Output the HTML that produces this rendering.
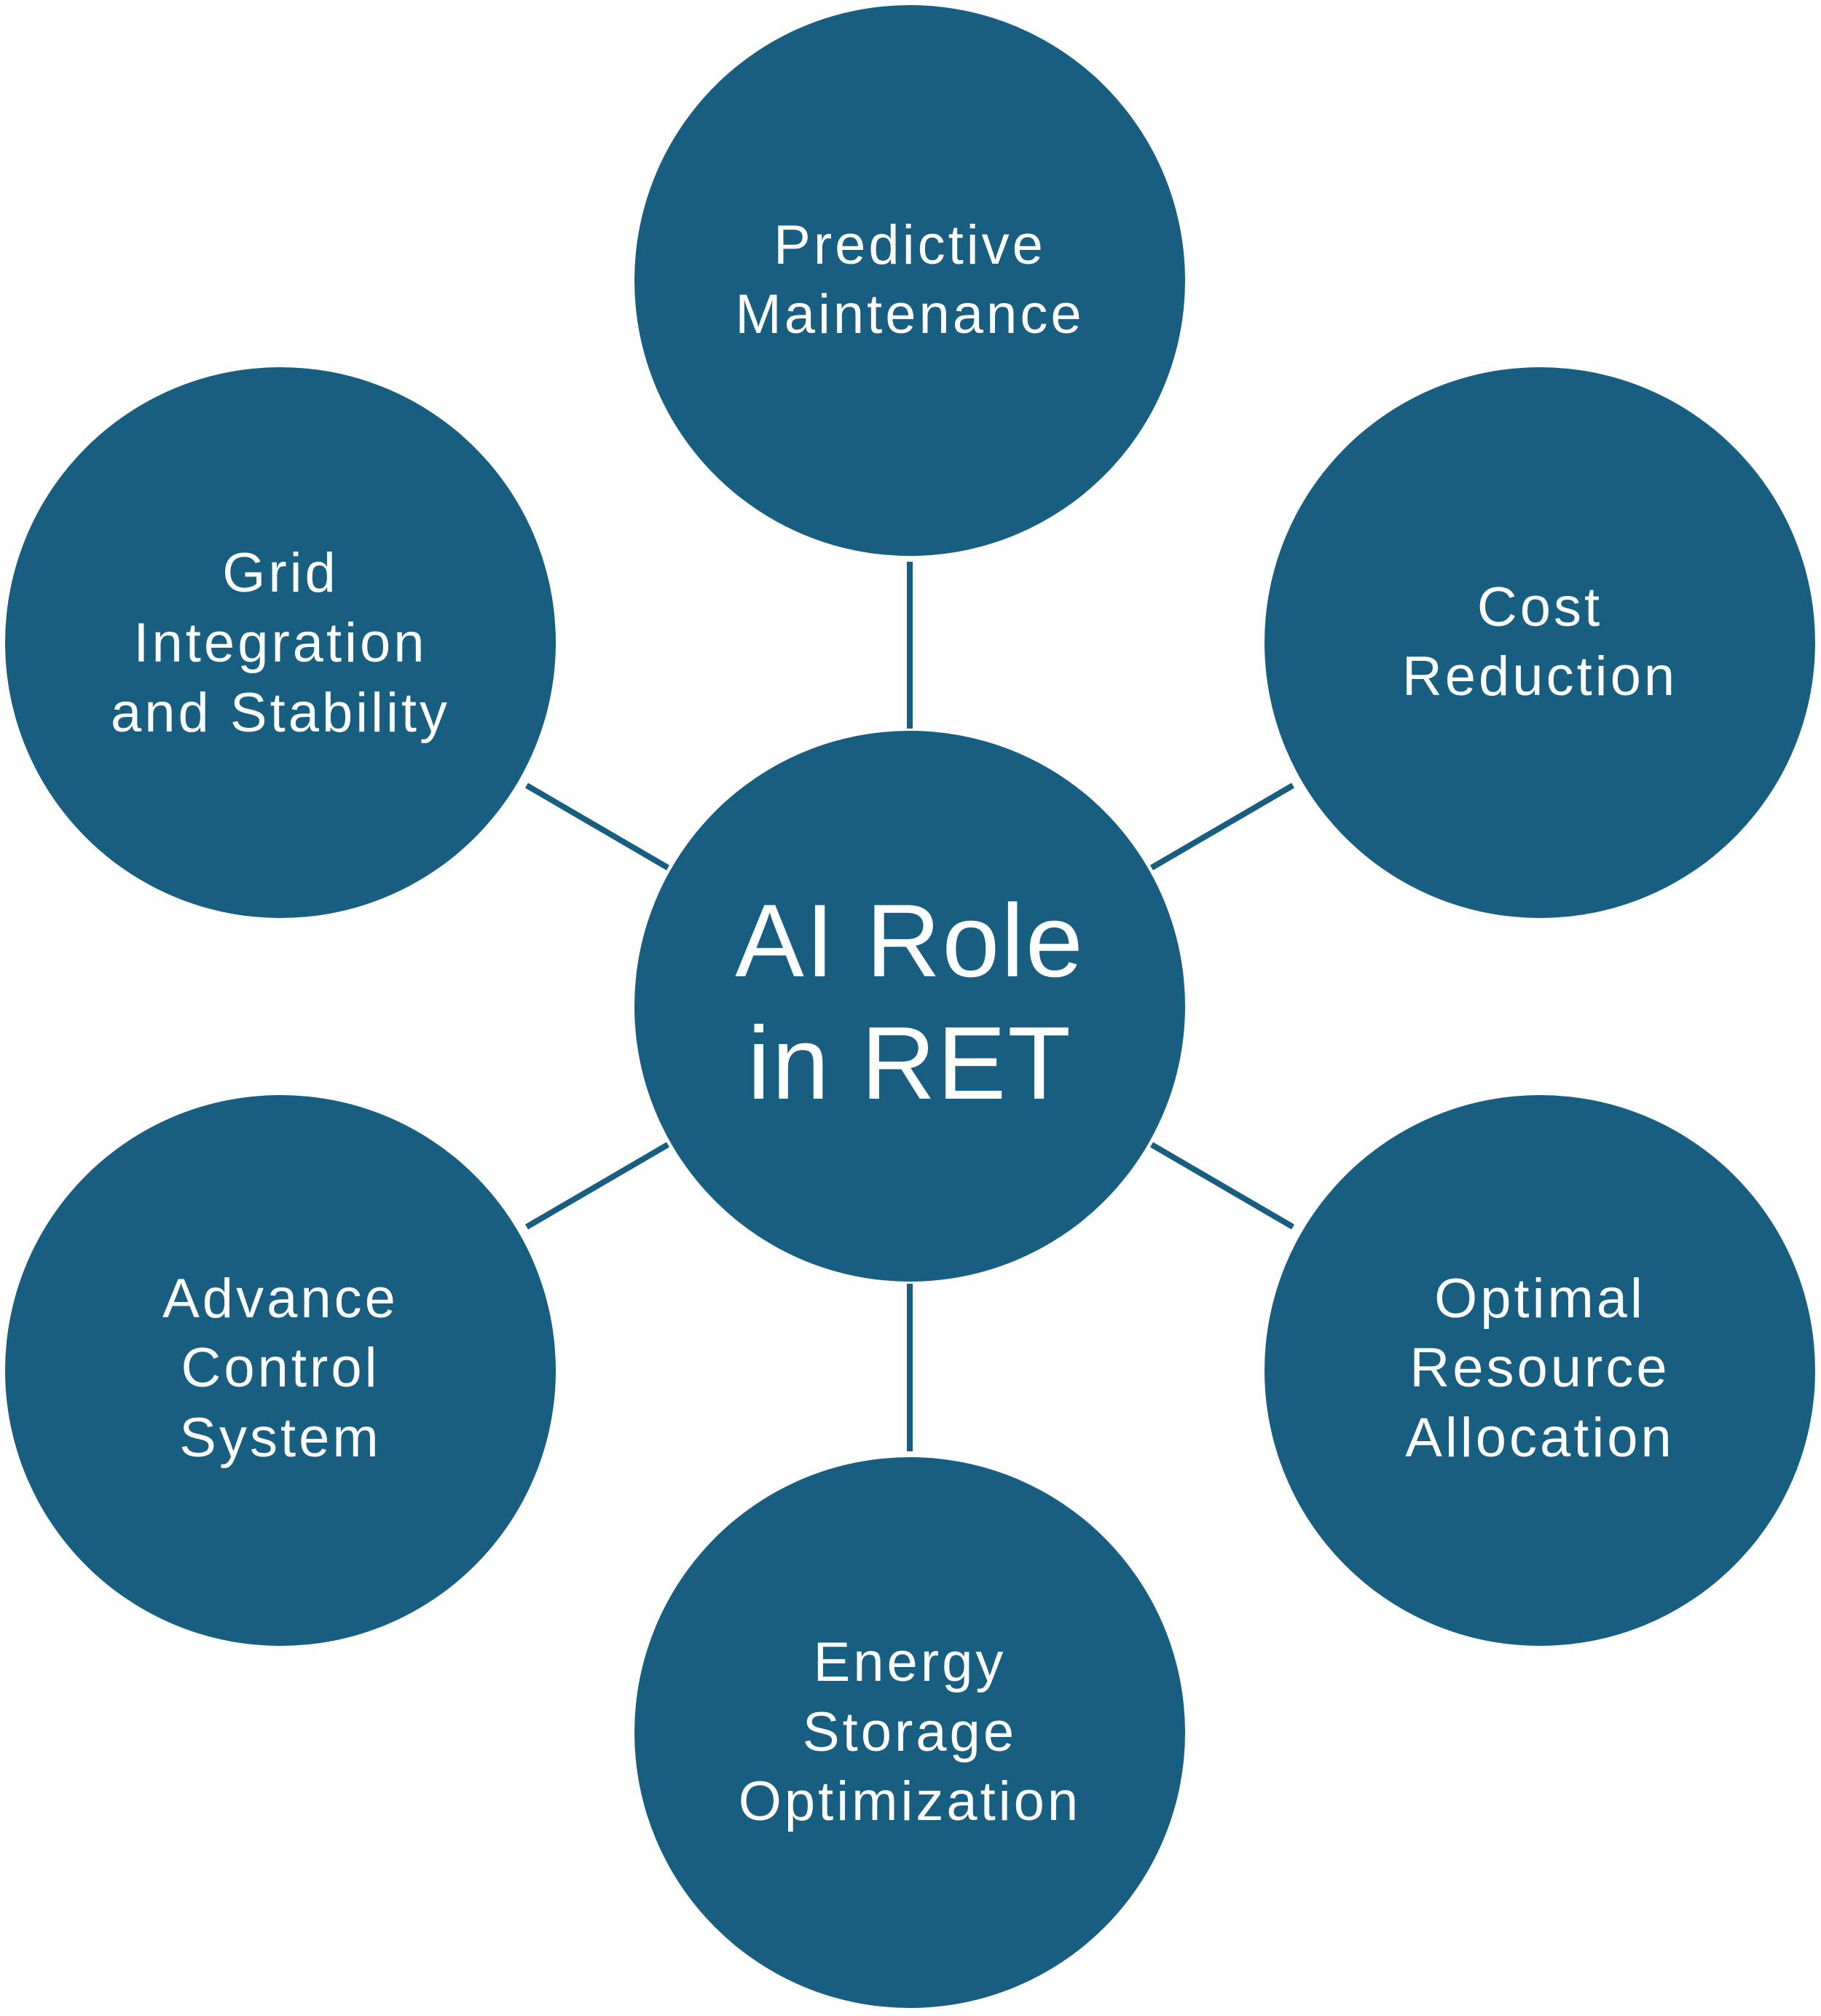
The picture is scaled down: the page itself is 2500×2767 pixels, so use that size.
<!DOCTYPE html>
<html><head><style>html,body{margin:0;padding:0;background:#fff}svg{display:block}</style></head>
<body>
<svg width="2500" height="2767" viewBox="0 0 2500 2767" xmlns="http://www.w3.org/2000/svg">
<g stroke="#175e80" stroke-width="8">
<line x1="1249" y1="771" x2="1249" y2="1000"/>
<line x1="1249" y1="1762" x2="1249" y2="1992"/>
<line x1="723" y1="1078" x2="917" y2="1191"/>
<line x1="1775" y1="1078" x2="1581" y2="1191"/>
<line x1="723" y1="1684" x2="917" y2="1571"/>
<line x1="1775" y1="1684" x2="1581" y2="1571"/>
</g>
<g fill="#175e80">
<circle cx="1249" cy="1381" r="378"/>
<circle cx="1249" cy="385" r="378"/>
<circle cx="1249" cy="2378" r="378"/>
<circle cx="385" cy="882" r="378"/>
<circle cx="2114" cy="882" r="378"/>
<circle cx="385" cy="1881" r="378"/>
<circle cx="2114" cy="1881" r="378"/>
</g>
<g fill="#fff" font-family="Liberation Sans, sans-serif" text-anchor="middle" font-size="76" letter-spacing="4">
<text x="1249" y="1340" font-size="142" letter-spacing="2">AI  Role</text>
<text x="1249" y="1508" font-size="142" letter-spacing="2">in RET</text>
<text x="1249" y="362">Predictive</text>
<text x="1249" y="457">Maintenance</text>
<text x="385" y="812">Grid</text>
<text x="385" y="908">Integration</text>
<text x="385" y="1004">and Stability</text>
<text x="2114" y="859">Cost</text>
<text x="2114" y="954">Reduction</text>
<text x="385" y="1808">Advance</text>
<text x="385" y="1903">Control</text>
<text x="385" y="1999">System</text>
<text x="2114" y="1808">Optimal</text>
<text x="2114" y="1903">Resource</text>
<text x="2114" y="1999">Allocation</text>
<text x="1249" y="2307">Energy</text>
<text x="1249" y="2403">Storage</text>
<text x="1249" y="2498">Optimization</text>
</g>
</svg>
</body></html>
